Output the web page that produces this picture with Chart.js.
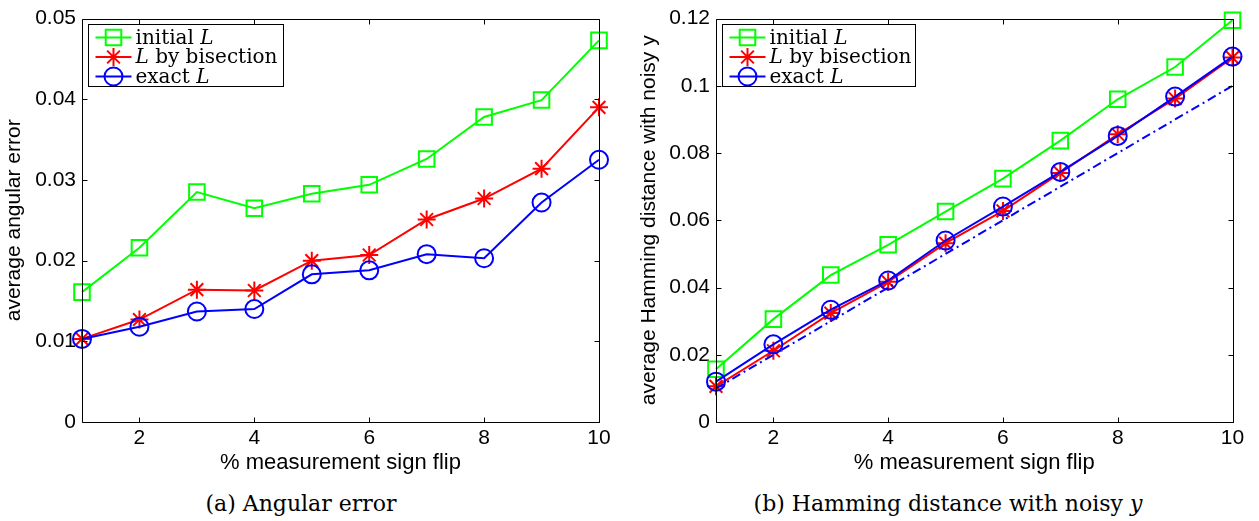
<!DOCTYPE html>
<html>
<head>
<meta charset="utf-8">
<script src="https://cdn.jsdelivr.net/npm/chart.js@4/dist/chart.umd.min.js"></script>
<style>
  html, body { margin: 0; padding: 0; background: #fff; }
  #wrap { position: relative; width: 1259px; height: 521px; overflow: hidden; }
  canvas { position: absolute; top: 0; }
  #cvA { left: 0; }
  #cvB { left: 629px; }
  .cap { position: absolute; top: 491px; font: 22px "DejaVu Serif", serif; color: #000; white-space: nowrap; transform: translateX(-50%); }
</style>
</head>
<body>
<div id="wrap">
  <canvas id="cvA" width="629" height="480"></canvas>
  <canvas id="cvB" width="630" height="480"></canvas>
  <div class="cap" style="left:301px">(a) Angular error</div>
  <div class="cap" style="left:948px">(b) Hamming distance with noisy <i>y</i></div>
</div>
<script>
// % of measurements with flipped sign
const flips = [1, 2, 3, 4, 5, 6, 7, 8, 9, 10];
const xTickValues = [2, 4, 6, 8, 10];

// (a) average angular error
const angInitial = [0.0161, 0.0216, 0.0285, 0.0265, 0.0283, 0.0294, 0.0326, 0.0378, 0.0399, 0.0473];
const angBisect  = [0.0103, 0.0127, 0.0164, 0.0163, 0.0200, 0.0207, 0.0251, 0.0277, 0.0314, 0.0390];
const angExact   = [0.0103, 0.0118, 0.0137, 0.0140, 0.0183, 0.0188, 0.0208, 0.0203, 0.0272, 0.0325];
const angTicks   = [0, 0.01, 0.02, 0.03, 0.04, 0.05];

// (b) average Hamming distance with noisy y
const hamInitial = [0.0157, 0.0306, 0.0437, 0.0527, 0.0626, 0.0724, 0.0837, 0.0960, 0.1056, 0.1195];
const hamBisect  = [0.0106, 0.0212, 0.0324, 0.0417, 0.0532, 0.0628, 0.0741, 0.0856, 0.0962, 0.1084];
const hamExact   = [0.0120, 0.0231, 0.0334, 0.0421, 0.0540, 0.0641, 0.0744, 0.0851, 0.0968, 0.1087];
const hamNoise   = [0.01, 0.02, 0.03, 0.04, 0.05, 0.06, 0.07, 0.08, 0.09, 0.10];
const hamTicks   = [0, 0.02, 0.04, 0.06, 0.08, 0.1, 0.12];

const GREEN = '#00ff00', RED = '#ff0000', BLUE = '#0000ff';
const SANS = '"Liberation Sans", Arial, sans-serif';
const SERIF = '"DejaVu Serif", serif';

Chart.defaults.font.family = SANS;
Chart.defaults.color = '#000';

const legendItems = [
  { parts: [['initial ', false], ['L', true]], color: GREEN, style: 'rect', radius: 11 },
  { parts: [['L', true], [' by bisection', false]], color: RED, style: 'star', radius: 9 },
  { parts: [['exact ', false], ['L', true]], color: BLUE, style: 'circle', radius: 9 }
];

const pts = ys => flips.map((x, i) => ({ x: x, y: ys[i] }));

// matlab-like box with inward ticks on all four sides
const framePlugin = {
  id: 'frame',
  afterDatasetsDraw(chart) {
    const { ctx, chartArea: a, scales: { x, y } } = chart;
    const L = Math.round(a.left) + 0.5, R = Math.round(a.right) + 0.5;
    const T = Math.round(a.top) + 0.5, B = Math.round(a.bottom) + 0.5;
    ctx.save();
    ctx.strokeStyle = '#000';
    ctx.lineWidth = 1;
    ctx.beginPath();
    ctx.rect(L, T, R - L, B - T);
    x.ticks.forEach(t => {
      const px = Math.round(x.getPixelForValue(t.value)) + 0.5;
      ctx.moveTo(px, B); ctx.lineTo(px, B - 5);
      ctx.moveTo(px, T); ctx.lineTo(px, T + 5);
    });
    y.ticks.forEach(t => {
      const py = Math.round(y.getPixelForValue(t.value)) + 0.5;
      ctx.moveTo(L, py); ctx.lineTo(L + 5, py);
      ctx.moveTo(R, py); ctx.lineTo(R - 5, py);
    });
    ctx.stroke();
    ctx.restore();
  }
};

// boxed legend drawn inside the plot, top-left
const boxLegend = {
  id: 'boxLegend',
  afterDraw(chart, args, opts) {
    const { ctx, chartArea: a } = chart;
    const bx = Math.round(a.left + opts.dx) + 0.5, by = Math.round(a.top + 5) + 0.5;
    ctx.save();
    ctx.fillStyle = '#fff';
    ctx.fillRect(bx, by, opts.width, 62);
    ctx.strokeStyle = '#000';
    ctx.lineWidth = 1;
    ctx.strokeRect(bx, by, opts.width, 62);
    legendItems.forEach((it, i) => {
      const cy = by + 13 + i * 19.5;
      ctx.strokeStyle = it.color;
      ctx.lineWidth = 2;
      ctx.beginPath();
      ctx.moveTo(bx + 7, cy);
      ctx.lineTo(bx + 43, cy);
      ctx.stroke();
      ctx.fillStyle = 'rgba(0,0,0,0)';
      Chart.helpers.drawPoint(ctx, { pointStyle: it.style, radius: it.radius, borderWidth: 2, rotation: 0 }, bx + 25, cy);
      let tx = bx + 47;
      ctx.fillStyle = '#000';
      ctx.textBaseline = 'middle';
      it.parts.forEach(([txt, ital]) => {
        ctx.font = (ital ? 'italic ' : '') + '20px ' + SERIF;
        ctx.fillText(txt, tx, cy + 1);
        tx += ctx.measureText(txt).width;
      });
    });
    ctx.restore();
  }
};

function series(label, ys, color, style, radius, order) {
  return {
    label: label,
    data: pts(ys),
    borderColor: color,
    backgroundColor: 'rgba(0,0,0,0)',
    borderWidth: 2,
    pointStyle: style,
    pointRadius: radius,
    pointBorderWidth: 2,
    pointBorderColor: color,
    pointBackgroundColor: 'rgba(0,0,0,0)',
    tension: 0,
    clip: false,
    order: order
  };
}

function makeChart(id, datasets, yMax, yTicks, yTitle, o) {
  return new Chart(document.getElementById(id), {
    type: 'line',
    data: { datasets: datasets },
    options: {
      responsive: false,
      animation: false,
      devicePixelRatio: 1,
      layout: { padding: { left: 0, right: o.padRight, top: 14, bottom: 0 } },
      plugins: {
        legend: { display: false },
        tooltip: { enabled: false },
        boxLegend: { dx: o.legendDx, width: o.legendW }
      },
      scales: {
        x: {
          type: 'linear',
          min: 1,
          max: 10,
          afterBuildTicks: s => { s.ticks = xTickValues.map(v => ({ value: v })); },
          afterFit: s => { s.height = 58; },
          grid: { display: false, drawTicks: false },
          border: { display: false },
          ticks: { font: { size: 21 }, padding: 4, maxRotation: 0 },
          title: { display: true, text: '% measurement sign flip', font: { size: 22 }, padding: { top: 0, bottom: 4 } }
        },
        y: {
          min: 0,
          max: yMax,
          afterBuildTicks: s => { s.ticks = yTicks.map(v => ({ value: v })); },
          afterFit: s => { s.width = o.yWidth; },
          grid: { display: false, drawTicks: false },
          border: { display: false },
          ticks: { font: { size: 21 }, padding: 6, callback: v => String(parseFloat(v.toFixed(3))) },
          title: { display: true, text: yTitle, font: { size: 21 }, padding: { top: o.yTitlePad, bottom: 0 } }
        }
      }
    },
    plugins: [framePlugin, boxLegend]
  });
}

makeChart('cvA', [
  series('initial L', angInitial, GREEN, 'rect', 11, 3),
  series('L by bisection', angBisect, RED, 'star', 9, 2),
  series('exact L', angExact, BLUE, 'circle', 9, 1)
], 0.05, angTicks, 'average angular error',
  { padRight: 30, yWidth: 82, yTitlePad: 2, legendDx: 5.5, legendW: 195 });

makeChart('cvB', [
  series('initial L', hamInitial, GREEN, 'rect', 11, 4),
  series('L by bisection', hamBisect, RED, 'star', 9, 3),
  series('exact L', hamExact, BLUE, 'circle', 9, 2),
  Object.assign(series('noise rate', hamNoise, BLUE, 'circle', 0, 1), { borderDash: [9, 4, 2, 4] })
], 0.12, hamTicks, 'average Hamming distance with noisy y',
  { padRight: 26.5, yWidth: 87, yTitlePad: 8, legendDx: 6, legendW: 193 });
</script>
</body>
</html>
